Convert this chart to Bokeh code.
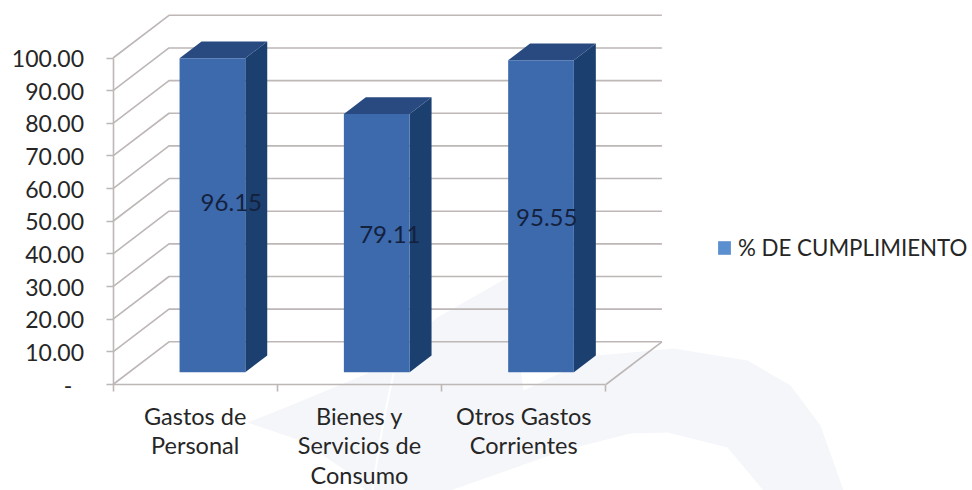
from bokeh.plotting import figure
from bokeh.embed import file_html
from bokeh.resources import INLINE
from bokeh.models import LinearAxis, FixedTicker, Range1d, Legend, LegendItem
from bokeh.core.properties import value

categories = ["Gastos de\nPersonal", "Bienes y\nServicios de\nConsumo", "Otros Gastos\nCorrientes"]
values = [96.15, 79.11, 95.55]
value_labels = ["96.15", "79.11", "95.55"]
series_name = "% DE CUMPLIMIENTO"
y_ticks = [0, 10, 20, 30, 40, 50, 60, 70, 80, 90, 100]

W, H = 972, 490
PX_X = 164.3    # px per category
PX_Y = 3.265    # px per value unit
X0, Y0 = 112.5, 384.0   # canvas position of origin

def dx(px):
    return (px - X0) / PX_X
def dy(py):
    return (Y0 - py) / PX_Y

DEPTH_X = 56 / PX_X
DEPTH_Y = 42.7 / PX_Y
FONT = "Lato"
TXT = "#262626"

def proj(x, v, d):
    return x + d * DEPTH_X, v + d * DEPTH_Y

p = figure(width=W, height=H, output_backend="svg", toolbar_location=None,
           x_axis_type=None, y_axis_type=None, min_border=0,
           x_range=Range1d(-X0 / PX_X, (W - X0) / PX_X),
           y_range=Range1d((Y0 - H) / PX_Y, Y0 / PX_Y))
p.outline_line_color = None
p.grid.visible = False
p.background_fill_color = "white"
p.border_fill_color = "white"

# faint watermark behind the chart
WM = "#f5f6fa"
wm_x = [247, 290, 367, 437, 507, 515, 523, 597, 673, 747, 790, 820, 843,
        763, 727, 667, 630, 563, 450, 365, 345, 300]
wm_y = [422, 405, 373, 317, 277, 330, 390, 355, 348, 360, 385, 425, 490,
        490, 447, 432, 433, 450, 490, 490, 470, 440]
p.patch([dx(a) for a in wm_x], [dy(b) for b in wm_y], fill_color=WM, line_color=None)
streak_x = [393, 385, 378, 372]
streak_y = [373, 410, 450, 490]
p.line([dx(a) for a in streak_x], [dy(b) for b in streak_y], line_color="white", line_width=2)

# walls / floor
GRID = "#bdb7b6"
gx, gy = [], []
for t in y_ticks:
    x0, y0 = proj(0, t, 0)
    x1, y1 = proj(0, t, 1)
    x2, y2 = proj(3, t, 1)
    gx.append([x0, x1, x2]); gy.append([y0, y1, y2])
x3, y3 = proj(3, 0, 0)
x4, y4 = proj(3, 0, 1)
gx.append([x3, x4]); gy.append([y3, y4])
p.multi_line(gx, gy, line_color=GRID, line_width=1.6)

# bars
BAR_L, BAR_R = 0.307, 0.707
D0, D1 = 0.288, 0.68
FRONT, TOP, SIDE = "#3d69ad", "#284a80", "#1b3f6f"
fx, fy, tx, ty, sx, sy = [], [], [], [], [], []
def quad(pts):
    return [proj(*q)[0] for q in pts], [proj(*q)[1] for q in pts]
for i, v in enumerate(values):
    l, r = i + BAR_L, i + BAR_R
    a, b = quad([(l, 0, D0), (r, 0, D0), (r, v, D0), (l, v, D0)]); fx.append(a); fy.append(b)
    a, b = quad([(l, v, D0), (r, v, D0), (r, v, D1), (l, v, D1)]); tx.append(a); ty.append(b)
    a, b = quad([(r, 0, D0), (r, 0, D1), (r, v, D1), (r, v, D0)]); sx.append(a); sy.append(b)
p.patches(sx, sy, fill_color=SIDE, line_color=None)
p.patches(tx, ty, fill_color=TOP, line_color=None)
p.patches(fx, fy, fill_color=FRONT, line_color=None)

# value labels
label_x = [0.72, 1.685, 2.64]
label_y = [55.6, 46.0, 51.0]
p.text(label_x, label_y, text=value_labels, text_font=value(FONT), text_font_size="24px",
       text_color="#14213d", text_align="center", text_baseline="middle")

# axes
yax = LinearAxis(fixed_location=0, ticker=FixedTicker(ticks=y_ticks), bounds=(0, 100))
yax.major_label_overrides = {t: f"{t:.2f}" for t in y_ticks}
yax.major_label_overrides[0] = "-\u00a0\u00a0"
yax.major_tick_in = 0; yax.major_tick_out = 7; yax.minor_tick_out = 0; yax.minor_tick_in = 0
yax.axis_line_color = GRID; yax.major_tick_line_color = GRID
yax.axis_line_width = 1.6; yax.major_tick_line_width = 1.6
yax.major_label_standoff = 22
yax.major_label_text_font = FONT; yax.major_label_text_font_size = "23px"
yax.major_label_text_color = TXT
p.add_layout(yax, "left")

xax = LinearAxis(fixed_location=0, ticker=FixedTicker(ticks=[0, 1, 2, 3]), bounds=(0, 3))
xax.major_label_text_font_size = "0px"
xax.major_label_overrides = {t: "" for t in [0, 1, 2, 3]}
xax.major_tick_in = 0; xax.major_tick_out = 7; xax.minor_tick_out = 0; xax.minor_tick_in = 0
xax.axis_line_color = GRID; xax.major_tick_line_color = GRID
xax.axis_line_width = 1.6; xax.major_tick_line_width = 1.6
p.add_layout(xax, "below")

centers = [i + 0.5 for i in range(len(categories))]
xlab = LinearAxis(fixed_location=0, ticker=FixedTicker(ticks=centers))
xlab.major_label_overrides = {c: t for c, t in zip(centers, categories)}
xlab.major_tick_in = 0; xlab.major_tick_out = 0; xlab.minor_tick_out = 0; xlab.minor_tick_in = 0
xlab.axis_line_color = None
xlab.major_label_standoff = 17
xlab.major_label_text_font = FONT; xlab.major_label_text_font_size = "23.5px"
xlab.major_label_text_color = TXT
xlab.major_label_text_line_height = 1.06
p.add_layout(xlab, "below")

# legend
swatch = p.patch([0, 0], [0, 0], fill_color="#5a8fd0", line_color=None)
leg = Legend(items=[LegendItem(label=series_name, renderers=[swatch])],
             location=(716, 229), background_fill_alpha=0, border_line_color=None,
             padding=0, margin=0, glyph_width=16, glyph_height=17, label_standoff=6,
             label_text_font=FONT, label_text_font_size="22.3px", label_text_color=TXT)
p.add_layout(leg, "center")

open("out.html", "w").write(file_html(p, INLINE))
